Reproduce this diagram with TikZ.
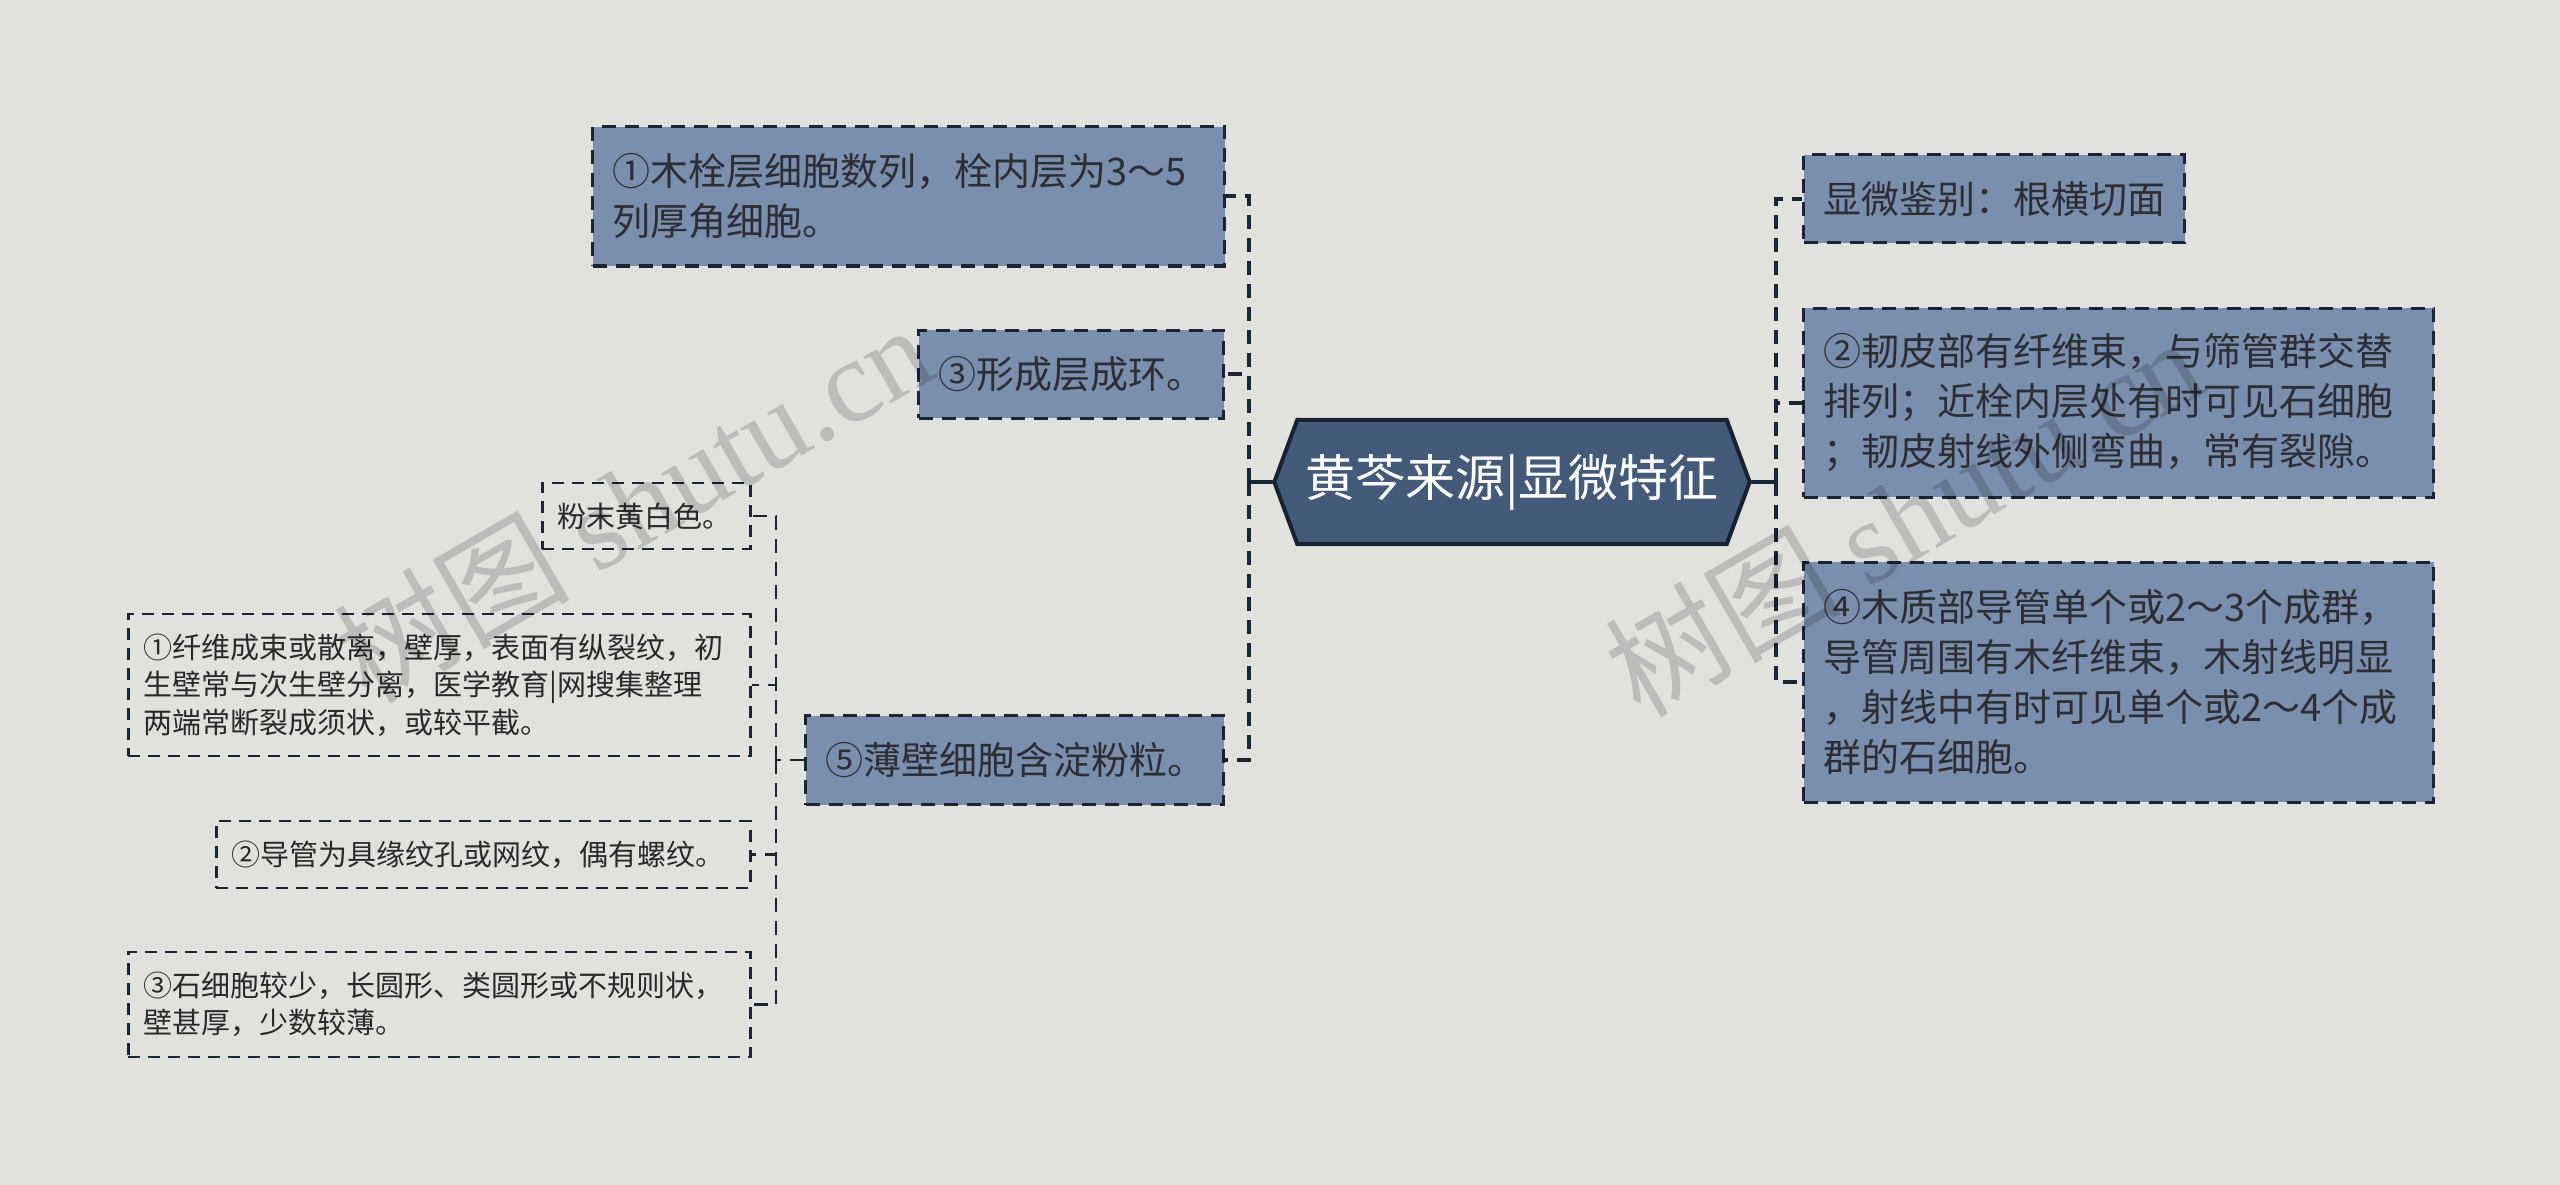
\documentclass[tikz,border=0pt]{standalone}
\usepackage{fontspec}
\setmainfont{Noto Sans CJK SC}
\newfontfamily\wmserif{Liberation Serif}
\usetikzlibrary{calc}
\pgfdeclarelayer{paperlayer}
\pgfdeclarelayer{bglayer}
\pgfsetlayers{paperlayer,bglayer,main}
\definecolor{bgc}{HTML}{E1E2DE}
\definecolor{boxc}{HTML}{7A8EAD}
\definecolor{hexc}{HTML}{445A7B}
\definecolor{hexb}{HTML}{182233}
\definecolor{linec}{HTML}{1A2433}
\definecolor{txtc}{HTML}{2C2E33}
\definecolor{txtb}{HTML}{2A2A2A}
\tikzset{
  lvlone/.style={draw=linec, line width=3pt, dash pattern=on 14pt off 9pt, fill=boxc,
    text=txtc, font=\fontsize{38}{50}\selectfont, align=left, inner xsep=20pt,
    inner ysep=0pt, anchor=west},
  lvltwo/.style={draw=linec, line width=2.5pt, dash pattern=on 12pt off 8pt,
    text=txtb, font=\fontsize{29}{37.5}\selectfont, align=left, inner xsep=15pt,
    inner ysep=0pt, anchor=west},
  conn/.style={draw=linec, line width=4pt, dash pattern=on 14pt off 9pt},
  stub/.style={draw=linec, line width=4.5pt},
  wm/.style={text=black, text opacity=0.16, font=\fontsize{118}{130}\selectfont, rotate=30}
}
\begin{document}
\begin{tikzpicture}[x=1pt,y=-1pt]
\begin{pgfonlayer}{paperlayer}
\path[fill=bgc] (0,0) rectangle (2560,1185);
\end{pgfonlayer}
\useasboundingbox (0,0) rectangle (2560,1185);

% central node
\node[minimum width=429pt, minimum height=124pt, inner sep=0pt, text=white,
      font=\fontsize{50}{60}\selectfont] (c) at (1512,482) {黄芩来源|显微特征};
\coordinate (cw) at ($(c.west)+(-23,0)$);
\coordinate (ce) at ($(c.east)+(23,0)$);
\begin{pgfonlayer}{bglayer}
\draw[fill=hexc, draw=hexb, line width=4pt, line join=miter]
  (c.north west) -- (c.north east) -- (ce) -- (c.south east) -- (c.south west) -- (cw) -- cycle;
\end{pgfonlayer}

% left first-level nodes
\node[lvlone, text width=592pt, minimum height=139pt] (b1) at (591,196.5)
  {①木栓层细胞数列，栓内层为3～5\\列厚角细胞。};
\node[lvlone, text width=265pt, minimum height=88pt] (b3) at (917,374)
  {③形成层成环。};
\node[lvlone, text width=378pt, minimum height=89pt] (b5) at (804,760)
  {⑤薄壁细胞含淀粉粒。};

% right first-level nodes
\node[lvlone, text width=341pt, minimum height=88pt] (r1) at (1802,199)
  {显微鉴别：根横切面};
\node[lvlone, text width=590pt, minimum height=189pt] (r2) at (1802,402.5)
  {②韧皮部有纤维束，与筛管群交替\\排列；近栓内层处有时可见石细胞\\；韧皮射线外侧弯曲，常有裂隙。};
\node[lvlone, text width=590pt, minimum height=240pt] (r4) at (1802,682)
  {④木质部导管单个或2～3个成群，\\导管周围有木纤维束，木射线明显\\，射线中有时可见单个或2～4个成\\群的石细胞。};

% second-level nodes
\node[lvltwo, text width=178pt, minimum height=66pt] (s0) at (541,516)
  {粉末黄白色。};
\node[lvltwo, text width=592pt, minimum height=142pt] (s1) at (127,685)
  {①纤维成束或散离，壁厚，表面有纵裂纹，初\\生壁常与次生壁分离，医学教育|网搜集整理\\两端常断裂成须状，或较平截。};
\node[lvltwo, text width=504pt, minimum height=67pt] (s2) at (215,854.5)
  {②导管为具缘纹孔或网纹，偶有螺纹。};
\node[lvltwo, text width=592pt, minimum height=105pt] (s3) at (127,1004.5)
  {③石细胞较少，长圆形、类圆形或不规则状，\\壁甚厚，少数较薄。};

% connectors
\coordinate (tl) at (1249,482);
\coordinate (tr) at (1776,482);
\draw[stub] (cw) -- (tl);
\draw[stub] (ce) -- (tr);
\draw[conn] (tl) |- (b1.east);
\draw[conn] (tl) |- (b3.east);
\draw[conn] (tl) |- (b5.east);
\draw[conn] (tr) |- (r1.west);
\draw[conn] (tr) |- (r2.west);
\draw[conn] (tr) |- (r4.west);
\coordinate (ts) at ($(b5.west)+(-28,0)$);
\draw[conn, line width=2.5pt] (b5.west) -- (ts);
\draw[conn, line width=2.5pt] (ts) |- (s0.east);
\draw[conn, line width=2.5pt] (ts) |- (s1.east);
\draw[conn, line width=2.5pt] (ts) |- (s2.east);
\draw[conn, line width=2.5pt] (ts) |- (s3.east);

% watermarks
\node[wm] (wma) at (632,502) {树图 {\wmserif shutu.cn}};
\node[wm] (wmb) at (1903,516) {树图 {\wmserif shutu.cn}};
\end{tikzpicture}
\end{document}
